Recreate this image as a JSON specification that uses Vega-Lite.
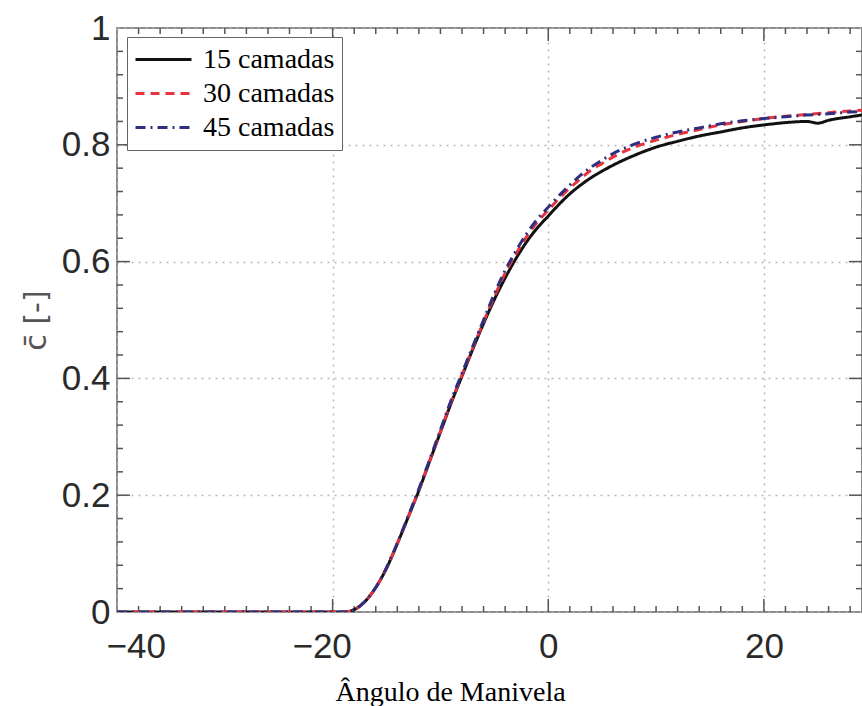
{
  "$schema": "https://vega.github.io/schema/vega-lite/v6.json",
  "width": 745,
  "height": 584,
  "autosize": {"type": "none"},
  "padding": {"left": 117, "top": 28, "right": 0, "bottom": 94},
  "background": "white",
  "config": {"view": {"stroke": "#666", "strokeWidth": 1.5}},
  "datasets": {
    "curves": [
      {"x": -40, "c": 0, "s": "15 camadas"}, {"x": -30, "c": 0, "s": "15 camadas"}, {"x": -20, "c": 0, "s": "15 camadas"}, {"x": -19, "c": 0, "s": "15 camadas"}, {"x": -18.5, "c": 0.001, "s": "15 camadas"}, {"x": -18, "c": 0.004, "s": "15 camadas"}, {"x": -17, "c": 0.018, "s": "15 camadas"}, {"x": -16, "c": 0.042, "s": "15 camadas"}, {"x": -15, "c": 0.075, "s": "15 camadas"}, {"x": -14, "c": 0.117, "s": "15 camadas"}, {"x": -13, "c": 0.162, "s": "15 camadas"}, {"x": -12, "c": 0.208, "s": "15 camadas"}, {"x": -11, "c": 0.258, "s": "15 camadas"}, {"x": -10, "c": 0.308, "s": "15 camadas"}, {"x": -9, "c": 0.358, "s": "15 camadas"}, {"x": -8, "c": 0.404, "s": "15 camadas"}, {"x": -7, "c": 0.45, "s": "15 camadas"}, {"x": -6, "c": 0.494, "s": "15 camadas"}, {"x": -5, "c": 0.535, "s": "15 camadas"}, {"x": -4, "c": 0.572, "s": "15 camadas"}, {"x": -3, "c": 0.605, "s": "15 camadas"}, {"x": -2, "c": 0.634, "s": "15 camadas"}, {"x": -1, "c": 0.658, "s": "15 camadas"}, {"x": 0, "c": 0.678, "s": "15 camadas"}, {"x": 1, "c": 0.698, "s": "15 camadas"}, {"x": 2, "c": 0.716, "s": "15 camadas"}, {"x": 3, "c": 0.731, "s": "15 camadas"}, {"x": 4, "c": 0.744, "s": "15 camadas"}, {"x": 5, "c": 0.755, "s": "15 camadas"}, {"x": 6, "c": 0.765, "s": "15 camadas"}, {"x": 8, "c": 0.782, "s": "15 camadas"}, {"x": 10, "c": 0.796, "s": "15 camadas"}, {"x": 12, "c": 0.806, "s": "15 camadas"}, {"x": 14, "c": 0.815, "s": "15 camadas"}, {"x": 16, "c": 0.822, "s": "15 camadas"}, {"x": 18, "c": 0.829, "s": "15 camadas"}, {"x": 20, "c": 0.834, "s": "15 camadas"}, {"x": 22, "c": 0.838, "s": "15 camadas"}, {"x": 24, "c": 0.84, "s": "15 camadas"}, {"x": 25, "c": 0.837, "s": "15 camadas"}, {"x": 26, "c": 0.842, "s": "15 camadas"}, {"x": 28, "c": 0.848, "s": "15 camadas"}, {"x": 29.1, "c": 0.851, "s": "15 camadas"},
      {"x": -40, "c": 0, "s": "30 camadas"}, {"x": -30, "c": 0, "s": "30 camadas"}, {"x": -20, "c": 0, "s": "30 camadas"}, {"x": -19, "c": 0, "s": "30 camadas"}, {"x": -18.5, "c": 0.001, "s": "30 camadas"}, {"x": -18, "c": 0.004, "s": "30 camadas"}, {"x": -17, "c": 0.018, "s": "30 camadas"}, {"x": -16, "c": 0.042, "s": "30 camadas"}, {"x": -15, "c": 0.075, "s": "30 camadas"}, {"x": -14, "c": 0.117, "s": "30 camadas"}, {"x": -13, "c": 0.162, "s": "30 camadas"}, {"x": -12, "c": 0.209, "s": "30 camadas"}, {"x": -11, "c": 0.259, "s": "30 camadas"}, {"x": -10, "c": 0.309, "s": "30 camadas"}, {"x": -9, "c": 0.36, "s": "30 camadas"}, {"x": -8, "c": 0.406, "s": "30 camadas"}, {"x": -7, "c": 0.452, "s": "30 camadas"}, {"x": -6, "c": 0.497, "s": "30 camadas"}, {"x": -5, "c": 0.54, "s": "30 camadas"}, {"x": -4, "c": 0.58, "s": "30 camadas"}, {"x": -3, "c": 0.613, "s": "30 camadas"}, {"x": -2, "c": 0.643, "s": "30 camadas"}, {"x": -1, "c": 0.668, "s": "30 camadas"}, {"x": 0, "c": 0.688, "s": "30 camadas"}, {"x": 1, "c": 0.708, "s": "30 camadas"}, {"x": 2, "c": 0.726, "s": "30 camadas"}, {"x": 3, "c": 0.742, "s": "30 camadas"}, {"x": 4, "c": 0.757, "s": "30 camadas"}, {"x": 5, "c": 0.768, "s": "30 camadas"}, {"x": 6, "c": 0.779, "s": "30 camadas"}, {"x": 8, "c": 0.796, "s": "30 camadas"}, {"x": 10, "c": 0.808, "s": "30 camadas"}, {"x": 12, "c": 0.818, "s": "30 camadas"}, {"x": 14, "c": 0.826, "s": "30 camadas"}, {"x": 16, "c": 0.834, "s": "30 camadas"}, {"x": 18, "c": 0.84, "s": "30 camadas"}, {"x": 20, "c": 0.845, "s": "30 camadas"}, {"x": 22, "c": 0.849, "s": "30 camadas"}, {"x": 24, "c": 0.852, "s": "30 camadas"}, {"x": 26, "c": 0.855, "s": "30 camadas"}, {"x": 28, "c": 0.858, "s": "30 camadas"}, {"x": 29.1, "c": 0.859, "s": "30 camadas"},
      {"x": -40, "c": 0, "s": "45 camadas"}, {"x": -30, "c": 0, "s": "45 camadas"}, {"x": -20, "c": 0, "s": "45 camadas"}, {"x": -19, "c": 0, "s": "45 camadas"}, {"x": -18.5, "c": 0.001, "s": "45 camadas"}, {"x": -18, "c": 0.004, "s": "45 camadas"}, {"x": -17, "c": 0.018, "s": "45 camadas"}, {"x": -16, "c": 0.042, "s": "45 camadas"}, {"x": -15, "c": 0.076, "s": "45 camadas"}, {"x": -14, "c": 0.118, "s": "45 camadas"}, {"x": -13, "c": 0.164, "s": "45 camadas"}, {"x": -12, "c": 0.211, "s": "45 camadas"}, {"x": -11, "c": 0.261, "s": "45 camadas"}, {"x": -10, "c": 0.312, "s": "45 camadas"}, {"x": -9, "c": 0.363, "s": "45 camadas"}, {"x": -8, "c": 0.409, "s": "45 camadas"}, {"x": -7, "c": 0.455, "s": "45 camadas"}, {"x": -6, "c": 0.5, "s": "45 camadas"}, {"x": -5, "c": 0.545, "s": "45 camadas"}, {"x": -4, "c": 0.585, "s": "45 camadas"}, {"x": -3, "c": 0.618, "s": "45 camadas"}, {"x": -2, "c": 0.648, "s": "45 camadas"}, {"x": -1, "c": 0.673, "s": "45 camadas"}, {"x": 0, "c": 0.693, "s": "45 camadas"}, {"x": 1, "c": 0.713, "s": "45 camadas"}, {"x": 2, "c": 0.731, "s": "45 camadas"}, {"x": 3, "c": 0.748, "s": "45 camadas"}, {"x": 4, "c": 0.762, "s": "45 camadas"}, {"x": 5, "c": 0.774, "s": "45 camadas"}, {"x": 6, "c": 0.785, "s": "45 camadas"}, {"x": 8, "c": 0.801, "s": "45 camadas"}, {"x": 10, "c": 0.813, "s": "45 camadas"}, {"x": 12, "c": 0.822, "s": "45 camadas"}, {"x": 14, "c": 0.829, "s": "45 camadas"}, {"x": 16, "c": 0.836, "s": "45 camadas"}, {"x": 18, "c": 0.841, "s": "45 camadas"}, {"x": 20, "c": 0.845, "s": "45 camadas"}, {"x": 22, "c": 0.848, "s": "45 camadas"}, {"x": 24, "c": 0.851, "s": "45 camadas"}, {"x": 26, "c": 0.853, "s": "45 camadas"}, {"x": 28, "c": 0.856, "s": "45 camadas"}, {"x": 29.1, "c": 0.857, "s": "45 camadas"}
    ],
    "xminor": [
      {"v": -38}, {"v": -36}, {"v": -34}, {"v": -32}, {"v": -30}, {"v": -28}, {"v": -26}, {"v": -24}, {"v": -22},
      {"v": -18}, {"v": -16}, {"v": -14}, {"v": -12}, {"v": -10}, {"v": -8}, {"v": -6}, {"v": -4}, {"v": -2},
      {"v": 2}, {"v": 4}, {"v": 6}, {"v": 8}, {"v": 10}, {"v": 12}, {"v": 14}, {"v": 16}, {"v": 18},
      {"v": 22}, {"v": 24}, {"v": 26}, {"v": 28}
    ],
    "xmajor": [{"v": -20}, {"v": 0}, {"v": 20}],
    "yminor": [
      {"v": 0.04}, {"v": 0.08}, {"v": 0.12}, {"v": 0.16}, {"v": 0.24}, {"v": 0.28}, {"v": 0.32}, {"v": 0.36},
      {"v": 0.44}, {"v": 0.48}, {"v": 0.52}, {"v": 0.56}, {"v": 0.64}, {"v": 0.68}, {"v": 0.72}, {"v": 0.76},
      {"v": 0.84}, {"v": 0.88}, {"v": 0.92}, {"v": 0.96}
    ],
    "ymajor": [{"v": 0.2}, {"v": 0.4}, {"v": 0.6}, {"v": 0.8}]
  },
  "layer": [
    {
      "data": {"name": "xminor"},
      "mark": {"type": "rule", "color": "#555", "strokeWidth": 1.5},
      "encoding": {"x": {"field": "v", "type": "quantitative"}, "y": {"datum": 0, "type": "quantitative"}, "y2": {"datum": 0.0103}}
    },
    {
      "data": {"name": "xmajor"},
      "mark": {"type": "rule", "color": "#555", "strokeWidth": 1.5},
      "encoding": {"x": {"field": "v", "type": "quantitative"}, "y": {"datum": 0, "type": "quantitative"}, "y2": {"datum": 0.0223}}
    },
    {
      "data": {"name": "xminor"},
      "mark": {"type": "rule", "color": "#555", "strokeWidth": 1.5},
      "encoding": {"x": {"field": "v", "type": "quantitative"}, "y": {"datum": 1, "type": "quantitative"}, "y2": {"datum": 0.9897}}
    },
    {
      "data": {"name": "xmajor"},
      "mark": {"type": "rule", "color": "#555", "strokeWidth": 1.5},
      "encoding": {"x": {"field": "v", "type": "quantitative"}, "y": {"datum": 1, "type": "quantitative"}, "y2": {"datum": 0.9777}}
    },
    {
      "data": {"name": "yminor"},
      "mark": {"type": "rule", "color": "#555", "strokeWidth": 1.5},
      "encoding": {"y": {"field": "v", "type": "quantitative"}, "x": {"datum": -40, "type": "quantitative"}, "x2": {"datum": -39.443}}
    },
    {
      "data": {"name": "ymajor"},
      "mark": {"type": "rule", "color": "#555", "strokeWidth": 1.5},
      "encoding": {"y": {"field": "v", "type": "quantitative"}, "x": {"datum": -40, "type": "quantitative"}, "x2": {"datum": -38.794}}
    },
    {
      "data": {"name": "yminor"},
      "mark": {"type": "rule", "color": "#555", "strokeWidth": 1.5},
      "encoding": {"y": {"field": "v", "type": "quantitative"}, "x": {"datum": 29.1, "type": "quantitative"}, "x2": {"datum": 28.543}}
    },
    {
      "data": {"name": "ymajor"},
      "mark": {"type": "rule", "color": "#555", "strokeWidth": 1.5},
      "encoding": {"y": {"field": "v", "type": "quantitative"}, "x": {"datum": 29.1, "type": "quantitative"}, "x2": {"datum": 27.894}}
    },
    {
      "data": {"name": "curves"},
      "mark": {"type": "line", "strokeWidth": 3, "interpolate": "monotone", "clip": true},
      "encoding": {
        "x": {"field": "x", "type": "quantitative",
          "scale": {"domain": [-40, 29.1], "nice": false, "zero": false},
          "axis": {"orient": "bottom", "values": [-40, -20, 0, 20], "ticks": false, "tickSize": 0,
            "domain": false,
            "grid": true, "gridColor": "#b8b8b8", "gridDash": [2, 5], "gridWidth": 1.5,
            "labelFont": "Liberation Sans", "labelFontSize": 35, "labelColor": "#2a2a2a", "labelPadding": 17,
            "labelOffset": {"condition": {"test": "datum.value < 0", "value": -11}, "value": 0},
            "labelOverlap": false,
            "title": "Ângulo de Manivela", "titleFont": "Liberation Serif", "titleFontSize": 28, "titleFontWeight": "normal", "titleColor": "#000",
            "titleX": 333, "titleY": 88, "titleBaseline": "alphabetic", "titleAlign": "center"}},
        "y": {"field": "c", "type": "quantitative",
          "scale": {"domain": [0, 1], "nice": false, "zero": false},
          "axis": {"orient": "left", "values": [0, 0.2, 0.4, 0.6, 0.8, 1], "labelExpr": "datum.value == 0 ? '0' : datum.value == 1 ? '1' : format(datum.value, '.1f')", "ticks": false, "tickSize": 0,
            "domain": false,
            "grid": true, "gridColor": "#b8b8b8", "gridDash": [2, 5], "gridWidth": 1.5,
            "labelFont": "Liberation Sans", "labelFontSize": 35, "labelColor": "#2a2a2a", "labelPadding": 7,
            "labelOverlap": false,
            "title": "c̄ [-]", "titleFont": "DejaVu Sans", "titleFontSize": 30, "titleFontWeight": "normal", "titleColor": "#555",
            "titleX": -72, "titleY": 292, "titleBaseline": "alphabetic", "titleAlign": "center", "titleAngle": -90}},
        "color": {"field": "s", "type": "nominal",
          "scale": {"domain": ["15 camadas", "30 camadas", "45 camadas"], "range": ["#111111", "#e8323c", "#2f2f80"]},
          "legend": {"orient": "none", "legendX": 10, "legendY": 9, "title": null,
            "symbolType": "stroke", "symbolSize": 3136, "symbolStrokeWidth": 3, "clipHeight": 31, "rowPadding": 3,
            "labelFont": "Liberation Serif", "labelFontSize": 28, "labelColor": "#000", "labelOffset": 10, "labelLimit": 300,
            "padding": 7, "strokeColor": "#666", "fillColor": "white", "cornerRadius": 0}},
        "strokeDash": {"field": "s", "type": "nominal",
          "scale": {"domain": ["15 camadas", "30 camadas", "45 camadas"], "range": [[1, 0], [9, 6], [10, 5, 2, 5]]}},
        "order": {"field": "x", "type": "quantitative"}
      }
    }
  ]
}
